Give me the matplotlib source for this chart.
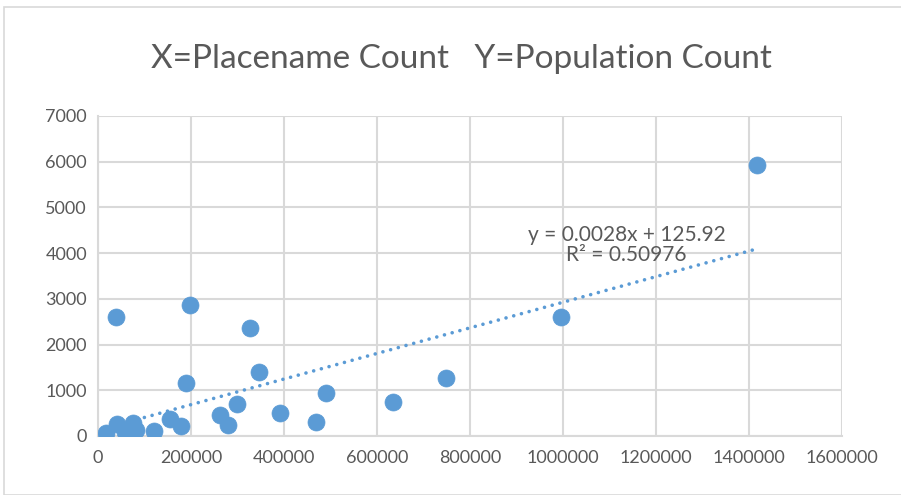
import matplotlib
matplotlib.use("Agg")
import matplotlib.pyplot as plt
from matplotlib.patches import Rectangle
from matplotlib.ticker import FuncFormatter

# Data
placename_count = [1417000, 995000, 748000, 634000, 490000, 469000, 391000,
                   346000, 327000, 198000, 189000, 298000, 262000, 280000,
                   178000, 155000, 120000, 39000, 17000, 41000, 58000, 75000,
                   82000]
population_count = [5930, 2600, 1270, 745, 950, 310, 500,
                    1400, 2360, 2866, 1150, 700, 470, 230,
                    225, 380, 105, 2600, 65, 260, 90, 280,
                    130]
trend_slope = 0.0028
trend_intercept = 125.92
r_squared = 0.50976
title_text = "X=Placename Count   Y=Population Count"
x_ticks = [0, 200000, 400000, 600000, 800000, 1000000, 1200000, 1400000, 1600000]
y_ticks = [0, 1000, 2000, 3000, 4000, 5000, 6000, 7000]

blue = "#5b9bd5"
txt = "#595959"
grid = "#d9d9d9"

plt.rcParams['font.family'] = ['Lato', 'DejaVu Sans']

fig = plt.figure(figsize=(9.01, 4.95), dpi=100)
fig.patches.append(Rectangle((4/901, 0), 1.0, 1 - 7/495, transform=fig.transFigure,
                             fill=False, edgecolor=grid, linewidth=1.2))
ax = fig.add_axes([98/901, 1 - 436/495, (842 - 98)/901, (436 - 116)/495])

ax.scatter(placename_count, population_count, s=150, color=blue, zorder=3,
           edgecolors=blue, linewidths=0.5)

xmin, xmax = min(placename_count), max(placename_count)
ax.plot([xmin, xmax],
        [trend_slope * xmin + trend_intercept, trend_slope * xmax + trend_intercept],
        color=blue, linewidth=2.6, linestyle=(0, (0.01, 2.2)),
        dash_capstyle='round', zorder=2)

ax.text(1137000, 4170, f"y = {trend_slope}x + {trend_intercept}\nR² = {r_squared}",
        ha='center', va='center', color=txt, fontsize=15, linespacing=1.0,
        zorder=4)

ax.set_xlim(0, 1600000)
ax.set_ylim(0, 7000)
ax.set_xticks(x_ticks)
ax.set_yticks(y_ticks)
fmt = FuncFormatter(lambda v, p: f"{int(v)}")
ax.xaxis.set_major_formatter(fmt)
ax.yaxis.set_major_formatter(fmt)
ax.tick_params(length=0, colors=txt, labelsize=13)
ax.tick_params(axis='x', pad=10)
ax.tick_params(axis='y', pad=8)
ax.grid(True, color=grid, linewidth=1.5)
ax.set_axisbelow(True)
for s in ['top', 'right']:
    ax.spines[s].set_visible(False)
for s in ['left', 'bottom']:
    ax.spines[s].set_color(grid)
    ax.spines[s].set_linewidth(1.5)

fig.text(461/901, 1 - 59/495, title_text, ha='center', va='center',
         fontsize=24, color=txt)

fig.savefig("out.png", dpi=100)
